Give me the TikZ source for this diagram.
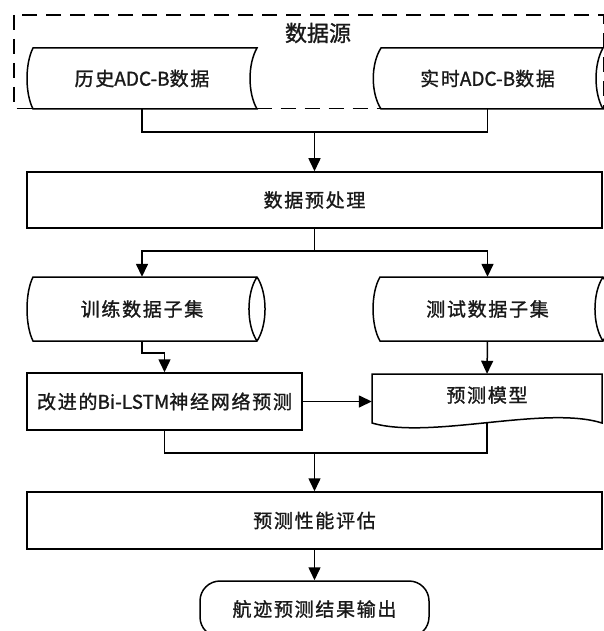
\documentclass[tikz,border=0pt]{standalone}
\usepackage{fontspec}
\setmainfont{Noto Sans CJK SC}
\newfontfamily\cjk[LetterSpace=9,FakeBold=1.2]{Noto Sans CJK SC}
\newfontfamily\cjklat[FakeBold=1.2]{Noto Sans CJK SC}
\newfontfamily\cjktitle[FakeBold=1.2]{Noto Sans CJK SC}
\newcommand{\latn}[1]{{\cjklat\fontsize{19pt}{22pt}\selectfont #1}}
\usetikzlibrary{arrows.meta}
\begin{document}
\begin{tikzpicture}[x=1pt,y=-1pt,
  line/.style={line width=1.5pt,draw=black},
  shp/.style={line width=1.5pt,draw=black,fill=white},
  arr/.style={line width=1.5pt,draw=black,-{Triangle[length=13pt,width=12pt]}},
  lbl/.style={font=\cjk\fontsize{19pt}{22pt}\selectfont,text=black!90,inner sep=0pt},
  box/.style={lbl,draw=black,line width=1.5pt,fill=white},
  dashbox/.style={line width=1.3pt,draw=black,dash pattern=on 15pt off 9pt}]
\useasboundingbox (0,0) rectangle (604,631);
\clip (0,0) rectangle (604,631);

% ---- top row: stored-data shapes
\draw[shp] (33,48) -- (257,48) .. controls (247.7,64) and (247.7,93) .. (257,109)
  -- (33,109) .. controls (25,93) and (25,64) .. cycle;
\draw[shp] (381,48) -- (603,48) .. controls (593.7,64) and (593.7,93) .. (603,109)
  -- (381,109) .. controls (370.7,93) and (370.7,64) .. cycle;
\node[lbl,minimum width=230pt,minimum height=61pt] (hist) at (142,78.5) {历史\latn{ADC-B}数据};
\node[lbl,minimum width=230pt,minimum height=61pt] (real) at (487.5,78.5) {实时\latn{ADC-B}数据};
\node[font=\cjktitle\fontsize{22pt}{26pt}\selectfont,text=black!90,inner sep=0pt] (src) at (318,33) {数据源};
\draw[dashbox] (14,15) rectangle (604,108.5);

% ---- second row: cylinders
\draw[shp] (33,277) -- (257,277) .. controls (267.7,293) and (267.7,325) .. (257,341)
  -- (33,341) .. controls (25,325) and (25,293) .. cycle;
\draw[line] (257,277) .. controls (246.3,293) and (246.3,325) .. (257,341);
\draw[shp] (380,277) -- (603,277) .. controls (613.7,293) and (613.7,325) .. (603,341)
  -- (380,341) .. controls (370.7,325) and (370.7,293) .. cycle;
\draw[line] (603,277) .. controls (592.3,293) and (592.3,325) .. (603,341);
\node[lbl,minimum width=230pt,minimum height=64pt] (train) at (142,309) {训练数据子集};
\node[lbl,minimum width=230pt,minimum height=64pt] (test) at (487.5,309) {测试数据子集};

% ---- document shape
\draw[shp] (372,374) -- (602,374) -- (602,423)
  .. controls (545,405) and (430,440) .. (372,423) -- cycle;
\node[inner sep=0pt,minimum width=230pt,minimum height=49pt,
  label={[lbl,yshift=3.5pt]center:预测模型}] (model) at (487,398.5) {};

% ---- boxes
\node[box,minimum width=575pt,minimum height=56pt] (pre) at (314.5,200) {数据预处理};
\node[box,minimum width=275pt,minimum height=57pt] (lstm) at (164.5,401.5) {改进的\latn{Bi-LSTM}神经网络预测};
\node[box,minimum width=575pt,minimum height=57pt] (eval) at (314.5,520.5) {预测性能评估};
\node[box,minimum width=229pt,minimum height=56pt,rounded corners=20pt] (term) at (314.5,609) {航迹预测结果输出};

% ---- connectors
\coordinate (j1) at (314.5,132);
\coordinate (j2) at (314.5,251);
\coordinate (j3) at (314.5,453);
\draw[line] (hist.south) |- (j1) -| (real.south);
\draw[arr] (j1) -- (pre.north);
\draw[line] (pre.south) -- (j2);
\draw[arr] (j2) -| (train.north);
\draw[arr] (j2) -| (test.north);
\draw[arr] (train.south) -- ++(0,12) -| (lstm.north);
\draw[arr] (test.south) -- (model.north);
\draw[arr] (lstm.east) -- (lstm.east -| model.west);
\draw[line] (lstm.south) |- (j3) -| (model.south);
\draw[arr] (j3) -- (eval.north);
\draw[arr] (eval.south) -- (term.north);
\end{tikzpicture}
\end{document}
